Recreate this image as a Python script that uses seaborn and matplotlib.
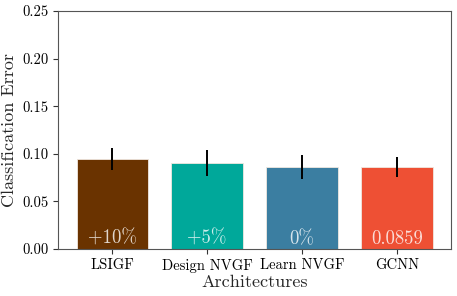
import matplotlib
matplotlib.use("Agg")
import matplotlib.pyplot as plt
import seaborn as sns
import pandas as pd

# 값
archs = ["LSIGF", "Design NVGF", "Learn NVGF", "GCNN"]
errors = [0.0945, 0.0905, 0.0859, 0.0859]
stds = [0.0115, 0.0135, 0.0125, 0.0105]
labels = ["+10%", "+5%", "0%", "0.0859"]
colors = ["#6a3300", "#00a89a", "#3b7ea1", "#ee5034"]

sns.set_style("ticks")
plt.rcParams["font.family"] = "serif"
plt.rcParams["font.serif"] = ["cmr10"]
plt.rcParams["mathtext.fontset"] = "cm"
plt.rcParams["axes.formatter.use_mathtext"] = True

df = pd.DataFrame({"arch": archs, "err": errors})

fig = plt.figure(figsize=(4.57, 2.96), dpi=100)
ax = fig.add_axes([0.127, 0.159, 0.86, 0.804])
sns.barplot(data=df, x="arch", y="err", hue="arch", palette=colors, saturation=1,
            width=0.75, edgecolor="#f0e8e0", linewidth=0.6, legend=False, ax=ax)
ax.errorbar(range(len(archs)), errors, yerr=stds, fmt="none", ecolor="black",
            elinewidth=1.4, capsize=0)

for i, t in enumerate(labels):
    ax.text(i, 0.001, t, ha="center", va="bottom", color="white", alpha=0.8,
            fontsize=13.5)

ax.set_ylim(0, 0.25)
ax.set_xlim(-0.57, 3.57)
ax.set_yticks([0, 0.05, 0.10, 0.15, 0.20, 0.25])
ax.set_yticklabels(["0.00", "0.05", "0.10", "0.15", "0.20", "0.25"])
ax.tick_params(labelsize=10.5, colors="#333333", labelcolor="black")
ax.set_xlabel("Architectures", fontsize=13, labelpad=1.5)
ax.set_ylabel("Classification Error", fontsize=13, labelpad=4)
for s in ax.spines.values():
    s.set_color("#555555")

fig.savefig("out.png", dpi=100)
